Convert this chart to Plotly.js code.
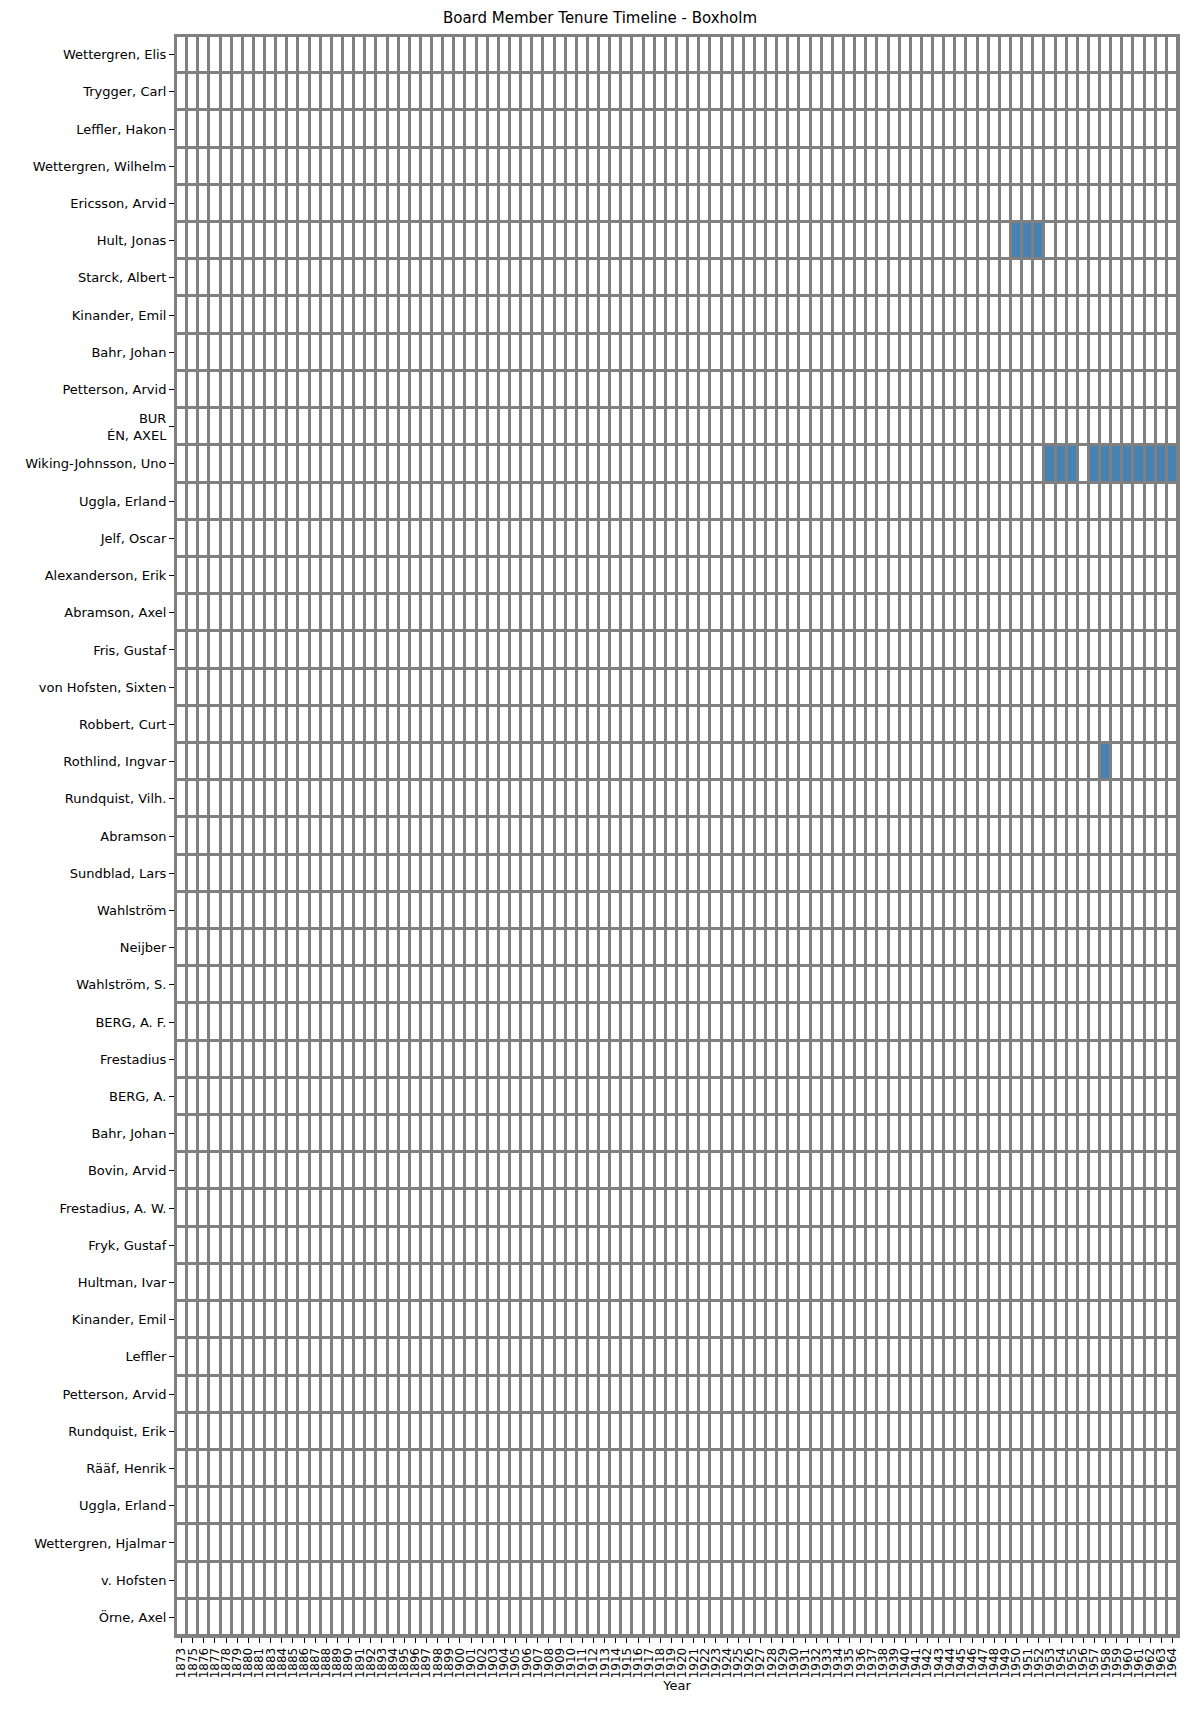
<!DOCTYPE html>
<html><head><meta charset="utf-8">
<script src="https://cdn.plot.ly/plotly-3.0.1.min.js"></script>
<style>body{margin:0;background:#fff}</style></head>
<body><div id="chart" style="width:1200px;height:1720px"></div>
<script>
const years = [1873,1875,1876,1877,1878,1879,1880,1881].concat(Array.from({length:82},(_,i)=>1883+i));
const members = ["Wettergren, Elis","Trygger, Carl","Leffler, Hakon","Wettergren, Wilhelm","Ericsson, Arvid","Hult, Jonas","Starck, Albert","Kinander, Emil","Bahr, Johan","Petterson, Arvid","BUR<br>ÉN, AXEL","Wiking-Johnsson, Uno","Uggla, Erland","Jelf, Oscar","Alexanderson, Erik","Abramson, Axel","Fris, Gustaf","von Hofsten, Sixten","Robbert, Curt","Rothlind, Ingvar","Rundquist, Vilh.","Abramson","Sundblad, Lars","Wahlström","Neijber","Wahlström, S.","BERG, A. F.","Frestadius","BERG, A.","Bahr, Johan","Bovin, Arvid","Frestadius, A. W.","Fryk, Gustaf","Hultman, Ivar","Kinander, Emil","Leffler","Petterson, Arvid","Rundquist, Erik","Rääf, Henrik","Uggla, Erland","Wettergren, Hjalmar","v. Hofsten","Örne, Axel"];
const activeHult = [1950,1951,1952];
const activeWiking = [1953,1954,1955,1957,1958,1959,1960,1961,1962,1963,1964];
const activeRothlind = [1958];
const active = {5: activeHult, 11: activeWiking, 19: activeRothlind};

const z = members.map((m,i)=>years.map(y=> (active[i] && active[i].includes(y)) ? 1 : 0));
const xi = years.map((_,i)=>i), yi = members.map((_,i)=>i);

Plotly.newPlot('chart',[{
  type:'heatmap', z:z, x:xi, y:yi, xgap:3, ygap:3,
  zmin:0, zmax:1, colorscale:[[0,'#ffffff'],[1,'#4682b4']], showscale:false, hoverinfo:'skip'
}],{
  width:1200, height:1720,
  margin:{l:176,r:22,t:36,b:84},
  paper_bgcolor:'#fff', plot_bgcolor:'#808080',
  font:{family:'DejaVu Sans, sans-serif', size:13, color:'#000'},
  title:{text:'Board Member Tenure Timeline - Boxholm', x:0.5, xanchor:'center', y:0.993, yanchor:'top', font:{size:15}},
  xaxis:{tickmode:'array', tickvals:xi, ticktext:years.map(String), tickangle:-90, range:[-0.5,years.length-0.5],
    ticks:'outside', ticklen:5, tickcolor:'#000', showgrid:false, zeroline:false, linecolor:'#808080', linewidth:2, mirror:true,
    tickfont:{size:12}, title:{text:'Year', standoff:4, font:{size:13}}},
  yaxis:{tickmode:'array', tickvals:yi, ticktext:members, range:[members.length-0.5,-0.5],
    ticks:'outside', ticklen:5, tickcolor:'#000', showgrid:false, zeroline:false, linecolor:'#808080', linewidth:2, mirror:true,
    tickfont:{size:13}}
},{displayModeBar:false});
</script></body></html>
